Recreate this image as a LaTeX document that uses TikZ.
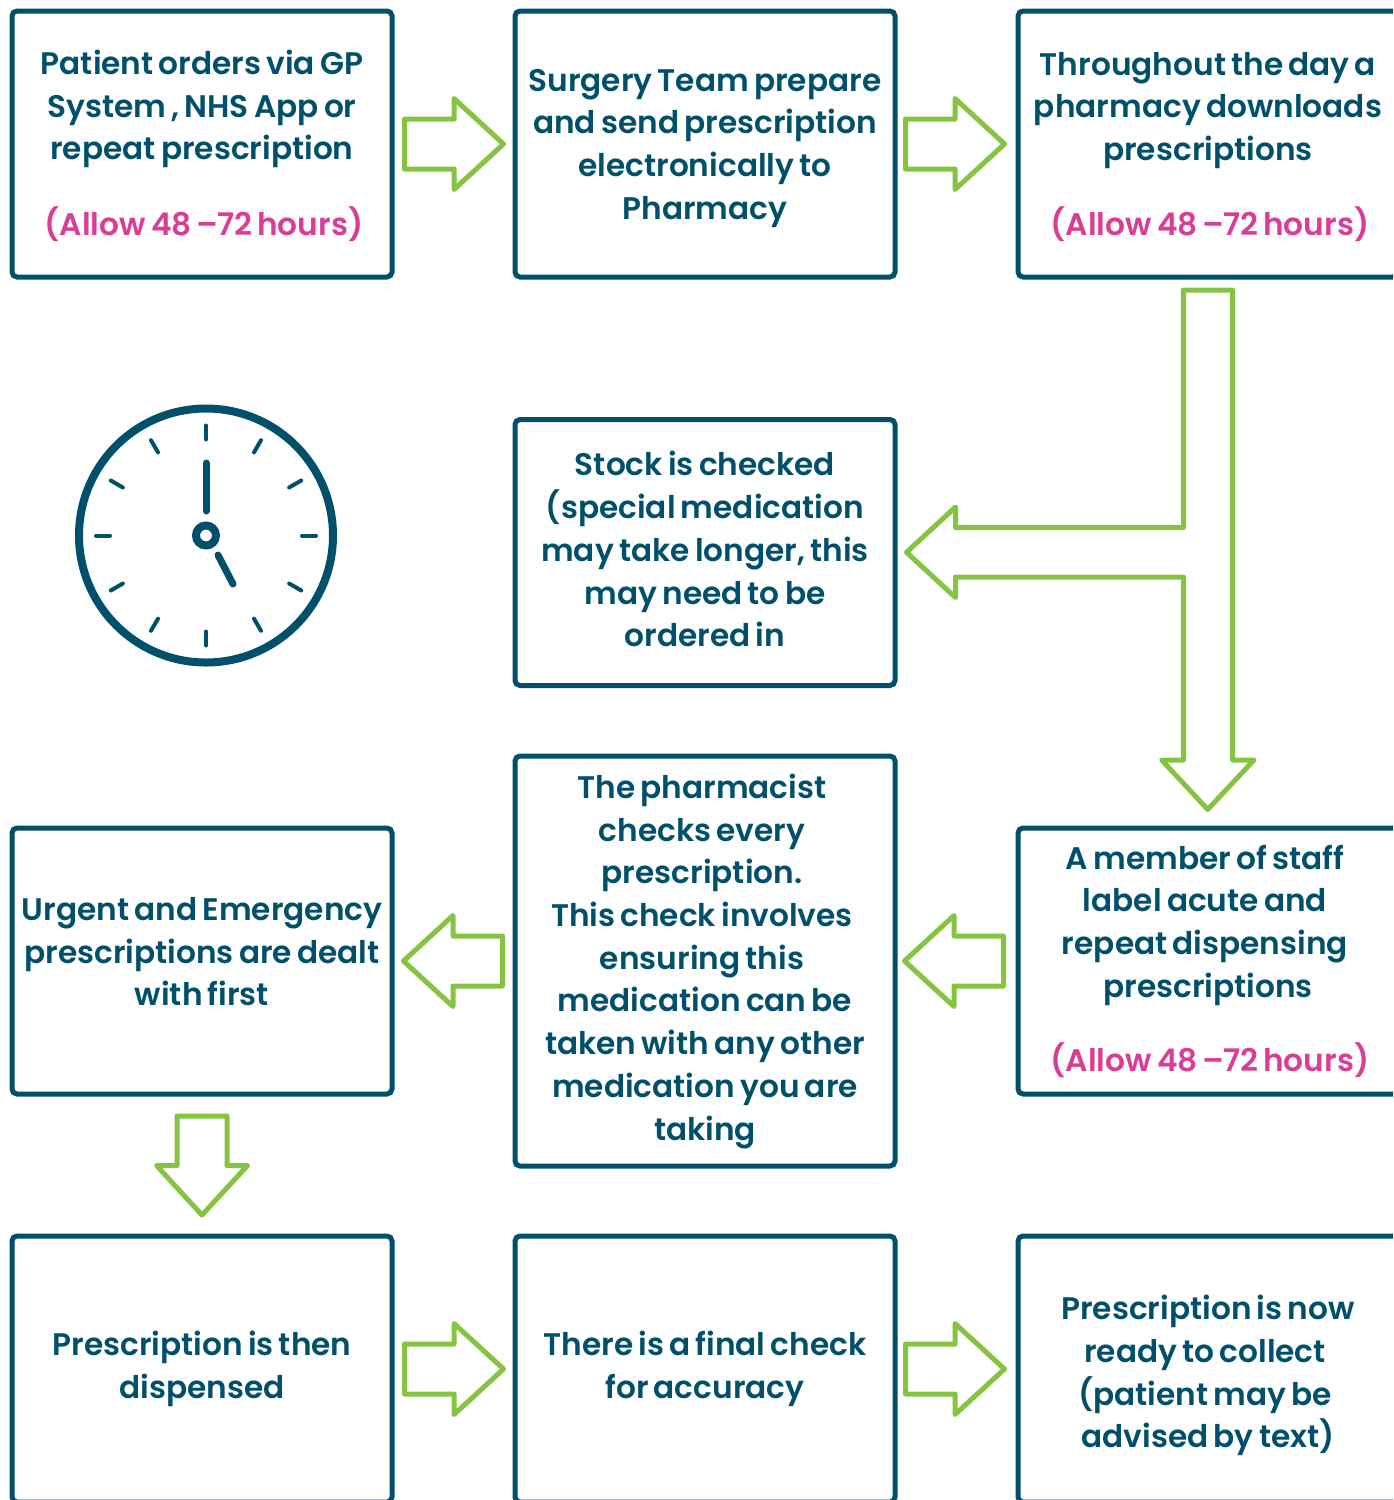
\documentclass[tikz,border=0pt]{standalone}
\usepackage{fontspec}
\setmainfont{Poppins}[BoldFont={Poppins SemiBold},WordSpace=0.7]
\usetikzlibrary{calc}
\definecolor{boxteal}{HTML}{00506C}
\definecolor{arrowgreen}{HTML}{84C441}
\definecolor{allowpink}{HTML}{DB3D96}
\newcommand{\allow}{\kern2pt\textcolor{allowpink}{(Allow 48 –\kern-3.5pt\ 72 hours)}}
\newcommand{\topgap}[1]{~\\[#1]}
\tikzset{
  flowbox/.style={draw=boxteal, line width=2.5pt, rounded corners=2.5pt, minimum width=190pt, minimum height=133pt,
    inner sep=0pt, outer sep=0pt, align=center, text=boxteal, font=\fontsize{15.6}{21.35}\selectfont\bfseries},
  blockarrow/.style={draw=arrowgreen, line width=2.5pt, line join=round},
  clockline/.style={draw=boxteal, line cap=round}
}
\begin{document}
\begin{tikzpicture}[x=.5pt, y=-.5pt]
    \useasboundingbox (0,0) rectangle (1393,1500);
    \clip (0,0) rectangle (1393,1500);
    \node[flowbox] (patient) at (202,144) {\topgap{-7.5pt}Patient orders via GP\\System , NHS App or\\repeat prescription\\[16.2pt]\allow};
    \node[flowbox] (surgery) at (705,144) {\topgap{-6pt}Surgery Team prepare\\and send prescription\\electronically to\\Pharmacy};
    \node[flowbox] (pharmacy) at (1208,144) {\topgap{-7pt}Throughout the day a\\pharmacy downloads\\prescriptions\\[16.2pt]\allow};
    \node[flowbox] (stock) at (705,552.5) {Stock is checked\\(special medication\\may take longer, this\\may need to be\\ordered in\\[-18pt]~};
    \node[flowbox, minimum height=205pt] (pharmacist) at (705,961) {\topgap{-8.85pt}The pharmacist\kern3pt\\checks every\kern3pt\\prescription.\kern3pt\\This check involves\kern3pt\\ensuring this\kern3pt\\medication can be\\taken with any other\\medication you are\\taking};
    \node[flowbox] (staff) at (1208,961) {\topgap{-8.85pt}A member of staff\kern3pt\\label acute and\kern3pt\\repeat dispensing\kern3pt\\prescriptions\\[16pt]\allow};
    \node[flowbox] (urgent) at (202,961) {Urgent and Emergency\\prescriptions are dealt\\with first\\[-12pt]~};
    \node[flowbox] (dispensed) at (202,1369) {Prescription is then\\dispensed};
    \node[flowbox] (final) at (705,1369) {There is a final check\\for accuracy};
    \node[flowbox] (ready) at (1208,1369) {\topgap{-2.5pt}Prescription is now\\ready to collect\kern3pt\\(patient may be\kern3pt\\advised by text)};
    % block arrows between the boxes
    \foreach \from/\to/\turn/\nudge in {patient.east/surgery.west/0/0, surgery.east/pharmacy.west/0/-2,
        staff.west/pharmacist.east/180/-2, pharmacist.west/urgent.east/180/0,
        urgent.south/dispensed.north/-90/0, dispensed.east/final.west/0/0, final.east/ready.west/0/-2}
        \draw[blockarrow, shift={($(\from)!.5!(\to)+(\nudge,0)$)}, rotate=\turn]
            (-49,-25)--(.5,-25)--(.5,-45.5)--(50,0)--(.5,45.5)--(.5,25)--(-49,25)--cycle;
    \draw[blockarrow] (1183.5,290)--(1232.5,290)--(1232.5,760)--(1254,760)--(1207.7,809.5)--(1161.7,760)
        --(1183.5,760)--(1183.5,577)--(955.5,577)--(955.5,597.5)--(906.5,552.3)--(955.5,507)--(955.5,527.5)--(1183.5,527.5)--cycle;
    % clock
    \coordinate (clockmid) at (206,535.5);
    \draw[boxteal, line width=4pt] (clockmid) circle (127);
    \draw[boxteal, line width=4pt] (clockmid) circle (10);
    \foreach \a in {0,30,...,330}
        \draw[clockline, line width=2pt] ($(clockmid)+(\a:96)$)--($(clockmid)+(\a:110)$);
    \draw[clockline, line width=3.5pt] (206,463)--(206,511);
    \draw[clockline, line width=3.5pt] (218,555)--(233,584);
\end{tikzpicture}
\end{document}
